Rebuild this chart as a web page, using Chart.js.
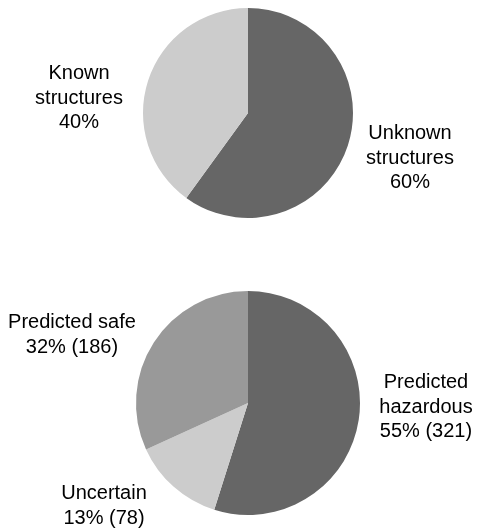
<!DOCTYPE html>
<html>
<head>
<meta charset="utf-8">
<script src="https://cdn.jsdelivr.net/npm/chart.js@4"></script>
<style>
  html, body { margin: 0; padding: 0; background: #ffffff; }
  #wrap { position: relative; width: 479px; height: 529px; overflow: hidden; }
  canvas { position: absolute; left: 0; }
</style>
</head>
<body>
<div id="wrap">
  <canvas id="top" width="479" height="230" style="top:0px"></canvas>
  <canvas id="bottom" width="479" height="249" style="top:280px"></canvas>
</div>
<script>
// ---- data ----
const topCategories = ["Unknown\nstructures", "Known\nstructures"];
const topValues = [60, 40];
const topPercentLabels = ["60%", "40%"];

const bottomCategories = ["Predicted\nhazardous", "Uncertain", "Predicted safe"];
const bottomValues = [321, 78, 186];
const bottomPercentLabels = ["55% (321)", "13% (78)", "32% (186)"];

// ---- styles ----
const topColors = ["#666666", "#cccccc"];
const bottomColors = ["#666666", "#cccccc", "#999999"];
const FONT = '20px "Liberation Sans", Arial, Helvetica, sans-serif';
const LINE_H = 24.5;

// label anchors relative to pie center (px)
const topLabelOffsets = [[162, 45], [-169, -15]];
const bottomLabelOffsets = [[178, 4], [-144, 103], [-176, -68]];

const sliceLabels = {
  id: 'sliceLabels',
  afterDraw(chart, args, opts) {
    const ctx = chart.ctx;
    const meta = chart.getDatasetMeta(0);
    ctx.save();
    ctx.font = FONT;
    ctx.fillStyle = '#000000';
    ctx.textAlign = 'center';
    ctx.textBaseline = 'middle';
    meta.data.forEach((arc, i) => {
      const lines = chart.data.labels[i].split('\n').concat([opts.extra[i]]);
      const cx = arc.x + opts.offsets[i][0];
      const cy = arc.y + opts.offsets[i][1];
      const startY = cy - (lines.length - 1) * LINE_H / 2;
      lines.forEach((ln, k) => ctx.fillText(ln, cx, startY + k * LINE_H));
    });
    ctx.restore();
  }
};

function makePie(id, labels, values, colors, extra, offsets, padding) {
  return new Chart(document.getElementById(id), {
    type: 'pie',
    data: {
      labels: labels,
      datasets: [{ data: values, backgroundColor: colors, borderWidth: 0 }]
    },
    options: {
      responsive: false,
      animation: false,
      devicePixelRatio: 1,
      layout: { padding: padding },
      plugins: {
        legend: { display: false },
        tooltip: { enabled: false },
        sliceLabels: { extra: extra, offsets: offsets }
      }
    },
    plugins: [sliceLabels]
  });
}

makePie('top', topCategories, topValues, topColors, topPercentLabels, topLabelOffsets,
        { top: 8, bottom: 12, left: 17, right: 0 });
makePie('bottom', bottomCategories, bottomValues, bottomColors, bottomPercentLabels, bottomLabelOffsets,
        { top: 11, bottom: 14, left: 17, right: 0 });
</script>
</body>
</html>
